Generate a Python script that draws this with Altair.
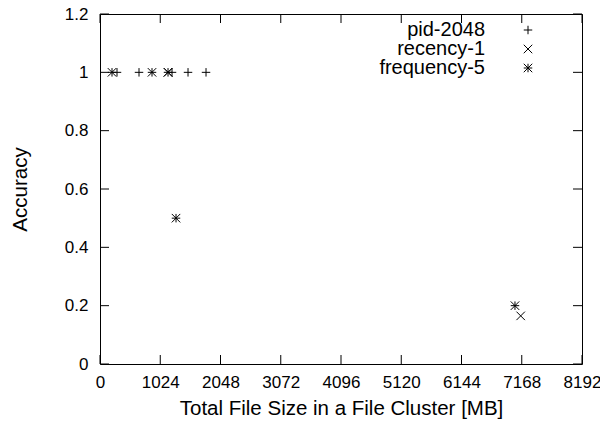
import altair as alt
import pandas as pd

# data
pid_x = [289, 663, 1224, 1496, 1802]
pid_y = [1, 1, 1, 1, 1]
rec_x = [1156, 7150]
rec_y = [1, 0.165]
freq_x = [204, 884, 1156, 1292, 7053]
freq_y = [1, 1, 1, 0.5, 0.2]

series_names = ["pid-2048", "recency-1", "frequency-5"]
x_ticks = [0, 1024, 2048, 3072, 4096, 5120, 6144, 7168, 8192]
y_ticks = [0, 0.2, 0.4, 0.6, 0.8, 1.0, 1.2]

W, H = 482, 350
TOP = 6
FONT = "Liberation Sans"
PLUS = "M-1,0L1,0M0,-1L0,1"
CROSS = "M-1,-1L1,1M-1,1L1,-1"
STAR = PLUS + CROSS
SHAPES = [PLUS, CROSS, STAR]

rows = []
for name, xs, ys in zip(series_names, [pid_x, rec_x, freq_x], [pid_y, rec_y, freq_y]):
    for a, b in zip(xs, ys):
        rows.append({"series": name, "size": a, "acc": b})
df = pd.DataFrame(rows)

xscale = alt.Scale(domain=[0, 8192], nice=False, zero=False)
yscale = alt.Scale(domain=[0, 1.2], nice=False)

xaxis = alt.Axis(values=x_ticks, format="d", ticks=False, tickSize=0, domain=False, grid=False,
                 labelFont=FONT, labelFontSize=17, labelColor="black", labelPadding=10,
                 title="Total File Size in a File Cluster [MB]", titleFont=FONT, titleFontSize=20.5,
                 titleFontWeight="normal", titleColor="black", titleY=44, titleBaseline="middle",
                 labelFlush=False, labelOverlap=False)
yaxis = alt.Axis(values=y_ticks, format="~g", ticks=False, tickSize=0, domain=False, grid=False,
                 labelFont=FONT, labelFontSize=17, labelColor="black", labelPadding=12,
                 title="Accuracy", titleFont=FONT, titleFontSize=20.5, titleFontWeight="normal",
                 titleColor="black", titleX=-80, titleY=H / 2, titleBaseline="middle",
                 labelFlush=False, labelOverlap=False)

layers = []
for name, shp in zip(series_names, SHAPES):
    layers.append(
        alt.Chart(df[df.series == name]).mark_point(
            shape=shp, size=72, filled=False, stroke="black", strokeWidth=1, opacity=1
        ).encode(
            x=alt.X("size:Q", scale=xscale, axis=xaxis),
            y=alt.Y("acc:Q", scale=yscale, axis=yaxis),
        )
    )

xt = pd.DataFrame({"t": x_ticks})
yt = pd.DataFrame({"t": y_ticks})
TL = 9
tick_layers = [
    alt.Chart(xt).mark_rule(color="black", strokeWidth=1).encode(
        x=alt.X("t:Q", scale=xscale), y=alt.value(H), y2=alt.value(H - TL)),
    alt.Chart(xt).mark_rule(color="black", strokeWidth=1).encode(
        x=alt.X("t:Q", scale=xscale), y=alt.value(0), y2=alt.value(TL)),
    alt.Chart(yt).mark_rule(color="black", strokeWidth=1).encode(
        y=alt.Y("t:Q", scale=yscale), x=alt.value(0), x2=alt.value(TL)),
    alt.Chart(yt).mark_rule(color="black", strokeWidth=1).encode(
        y=alt.Y("t:Q", scale=yscale), x=alt.value(W), x2=alt.value(W - TL)),
]

# manual legend (text right-aligned, symbol to the right)
leg_rows = [16, 35, 54]
legend_layers = []
for name, shp, ly in zip(series_names, SHAPES, leg_rows):
    ld = pd.DataFrame({"label": [name]})
    legend_layers.append(
        alt.Chart(ld).mark_text(align="right", baseline="middle", font=FONT, fontSize=20,
                                color="black").encode(
            x=alt.value(385), y=alt.value(ly), text="label:N"))
    legend_layers.append(
        alt.Chart(ld).mark_point(shape=shp, size=72, filled=False, stroke="black",
                                 strokeWidth=1, opacity=1).encode(
            x=alt.value(428), y=alt.value(ly)))

chart = alt.layer(*tick_layers, *layers, *legend_layers).properties(
    width=W, height=H,
    autosize=alt.AutoSizeParams(type="none"),
    padding={"left": 92, "top": TOP, "right": 18, "bottom": 60},
    background="white",
).configure_view(stroke="black", strokeWidth=1)

chart.save("out.html", embed_options={"renderer": "svg", "actions": False})
